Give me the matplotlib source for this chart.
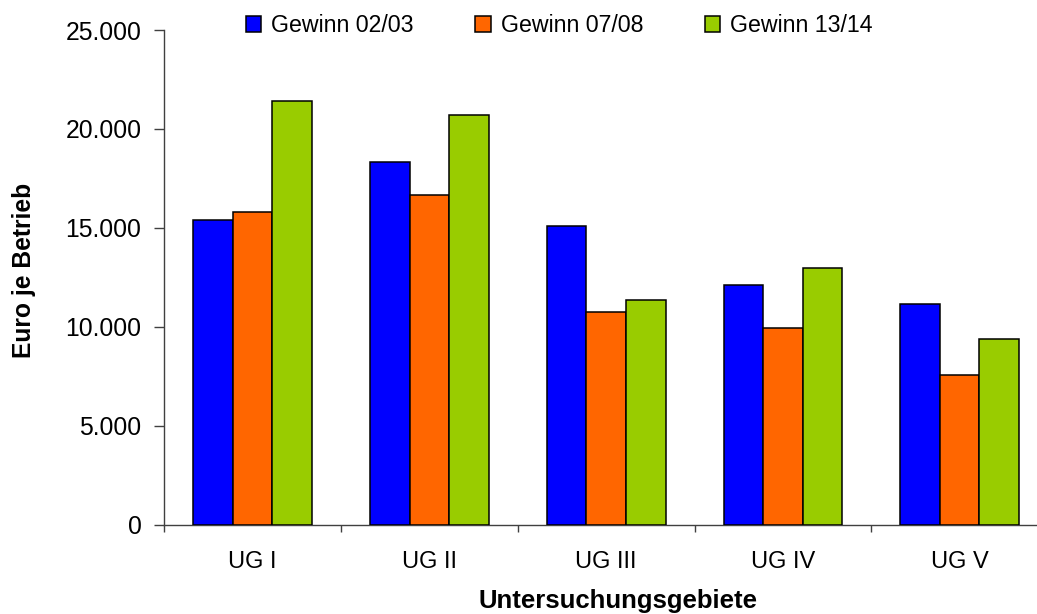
import matplotlib
matplotlib.use("Agg")
import matplotlib.pyplot as plt
import numpy as np
from matplotlib.ticker import FuncFormatter

plt.rcParams['font.family'] = ['Liberation Sans', 'DejaVu Sans']

categories = ["UG I", "UG II", "UG III", "UG IV", "UG V"]
series_names = ["Gewinn 02/03", "Gewinn 07/08", "Gewinn 13/14"]
gewinn_0203 = [15390, 18350, 15080, 12110, 11170]
gewinn_0708 = [15790, 16640, 10770, 9920, 7580]
gewinn_1314 = [21410, 20690, 11340, 12980, 9380]
colors = ["#0000FF", "#FF6600", "#99CC00"]

W, H = 1037, 614
fig = plt.figure(figsize=(W / 100, H / 100), dpi=100)
left, right = 164.3, 1048.0
top, bottom = 30.0, 524.7
ax = fig.add_axes([left / W, (H - bottom) / H, (right - left) / W, (bottom - top) / H])

x = np.arange(len(categories))
bw = 0.224
for i, (vals, name, c) in enumerate(zip([gewinn_0203, gewinn_0708, gewinn_1314], series_names, colors)):
    ax.bar(x + (i - 1) * bw, vals, width=bw, color=c, edgecolor="black", linewidth=1.1, label=name, zorder=3)

ax.set_xlim(-0.5, len(categories) - 0.5)
ax.set_ylim(0, 25000)
ax.set_yticks(np.arange(0, 25001, 5000))
ax.yaxis.set_major_formatter(FuncFormatter(lambda v, p: f"{int(v):,}".replace(",", ".")))

ax.set_xticks(np.arange(-0.5, len(categories) + 0.5, 1.0))
ax.set_xticklabels([])
ax.set_xticks(x, minor=True)
ax.set_xticklabels(categories, minor=True)

axis_col = "#404040"
for s in ["top", "right"]:
    ax.spines[s].set_visible(False)
for s in ["left", "bottom"]:
    ax.spines[s].set_color(axis_col)
    ax.spines[s].set_linewidth(1.0)

ax.tick_params(axis="y", which="major", direction="out", length=7, width=1, color=axis_col,
               labelsize=17.8, pad=9.5, labelcolor="black")
ax.tick_params(axis="x", which="major", direction="out", length=5, width=1, color=axis_col)
ax.tick_params(axis="x", which="minor", length=0, labelsize=17, pad=19, labelcolor="black")

fig.text(618 / W, (H - 608) / H, "Untersuchungsgebiete", ha="center", va="baseline",
         fontsize=18.5, fontweight="bold")
fig.text(24 / W, (H - 270) / H, "Euro je Betrieb", ha="center", va="center",
         rotation=90, fontsize=17.7, fontweight="bold")

leg = fig.legend(loc="center left", bbox_to_anchor=(246 / W, (H - 25.5) / H), ncol=3, frameon=False,
                 fontsize=16.7, handlelength=0.65, handleheight=0.65, handletextpad=0.43,
                 columnspacing=2.67, borderpad=0, borderaxespad=0)

fig.savefig("out.png", dpi=100)
